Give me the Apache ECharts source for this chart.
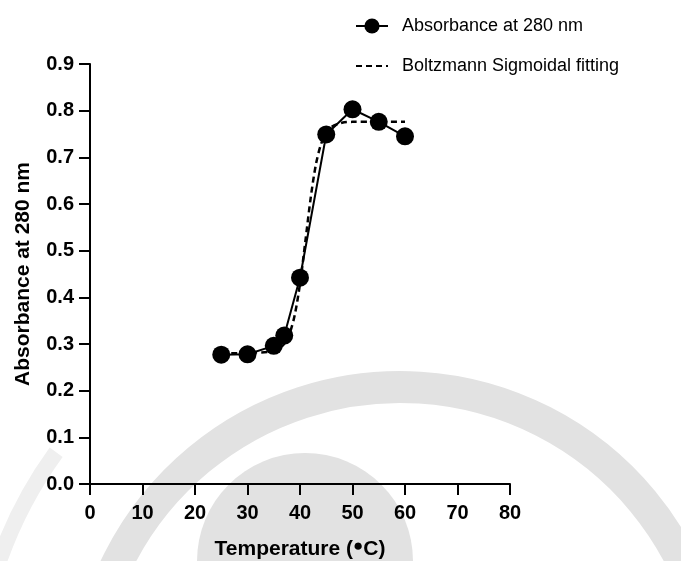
<!DOCTYPE html>
<html>
<head>
  <meta charset="utf-8">
  <title>Absorbance vs Temperature</title>
  <script src="https://cdn.jsdelivr.net/npm/echarts@6/dist/echarts.min.js"></script>
  <style>
    html, body { margin: 0; padding: 0; background: #fff; }
    #main { width: 681px; height: 561px; }
  </style>
</head>
<body>
  <div id="main"></div>
  <script type="text/javascript">
    // measured points
    var temps = [25, 30, 35, 37, 40, 45, 50, 55, 60];
    var absorbance = [0.277, 0.278, 0.296, 0.318, 0.442, 0.749, 0.803, 0.776, 0.745];

    // dashed fit curve
    var fitTemps = [25, 30, 35, 37, 38, 39, 40, 41, 42, 43, 44, 45, 46, 48, 50, 55, 60];
    var fitValues = [0.280, 0.281, 0.285, 0.300, 0.322, 0.362, 0.429, 0.518, 0.610, 0.683, 0.728, 0.752, 0.765, 0.774, 0.776, 0.776, 0.776];

    var xTicks = [0, 10, 20, 30, 40, 50, 60, 70, 80];
    var yTicks = [0, 0.1, 0.2, 0.3, 0.4, 0.5, 0.6, 0.7, 0.8, 0.9];

    function pairs(xs, ys) {
      var res = [];
      for (var i = 0; i < xs.length; i++) res.push([xs[i], ys[i]]);
      return res;
    }

    var font = "'Liberation Sans', Arial, Helvetica, sans-serif";
    var wm = '#e2e2e2';

    var myChart = echarts.init(document.getElementById('main'));
    var option = {
      backgroundColor: '#fff',
      animation: false,
      // faint logo watermark behind the plot
      graphic: [
        {
          type: 'arc', z: -10, silent: true,
          shape: { cx: 400, cy: 702, r: 315, startAngle: Math.PI * 0.9, endAngle: Math.PI * 2.1 },
          style: { stroke: wm, lineWidth: 32, fill: null }
        },
        {
          type: 'arc', z: -10, silent: true,
          shape: { cx: 400, cy: 702, r: 425, startAngle: Math.PI * 1.0, endAngle: Math.PI * 1.2 },
          style: { stroke: '#efefef', lineWidth: 16, fill: null }
        },
        {
          type: 'circle', z: -10, silent: true,
          shape: { cx: 305, cy: 561, r: 108 },
          style: { fill: wm }
        }
      ],
      legend: {
        orient: 'vertical',
        left: 350,
        top: 11,
        itemWidth: 32,
        itemHeight: 19,
        itemGap: 20,
        data: [
          { name: 'Absorbance at 280 nm' },
          { name: 'Boltzmann Sigmoidal fitting', itemStyle: { opacity: 0 } }
        ],
        textStyle: {
          fontFamily: font,
          fontSize: 18,
          color: '#000',
          lineHeight: 20,
          padding: [0, 0, 0, 9]
        }
      },
      grid: {
        left: 90,
        right: 171,
        top: 64,
        bottom: 77,
        containLabel: false,
        outerBoundsMode: 'none'
      },
      xAxis: {
        type: 'value',
        min: 0,
        max: 80,
        interval: 10,
        name: 'Temperature ({d|●}C)',
        nameLocation: 'middle',
        nameGap: 54,
        nameTextStyle: {
          fontFamily: font,
          fontSize: 21,
          fontWeight: 'bold',
          color: '#000',
          rich: {
            d: { fontFamily: font, fontSize: 17, fontWeight: 'bold', color: '#000', verticalAlign: 'top', padding: [0, 0, 5, 0] }
          }
        },
        axisLine: { lineStyle: { color: '#000', width: 2 } },
        axisTick: { inside: false, length: 11, lineStyle: { color: '#000', width: 2 } },
        axisLabel: {
          margin: 19,
          fontFamily: font,
          fontSize: 20,
          fontWeight: 'bold',
          color: '#000',
          formatter: function (v) { return xTicks.indexOf(v) >= 0 ? String(v) : ''; }
        },
        splitLine: { show: false }
      },
      yAxis: {
        type: 'value',
        min: 0,
        max: 0.9,
        interval: 0.1,
        name: 'Absorbance at 280 nm',
        nameLocation: 'middle',
        nameGap: 56,
        nameTextStyle: {
          fontFamily: font,
          fontSize: 21,
          fontWeight: 'bold',
          color: '#000'
        },
        axisLine: { show: true, lineStyle: { color: '#000', width: 2 } },
        axisTick: { show: true, inside: false, length: 11, lineStyle: { color: '#000', width: 2 } },
        axisLabel: {
          margin: 16,
          fontFamily: font,
          fontSize: 20,
          fontWeight: 'bold',
          color: '#000',
          formatter: function (v) {
            for (var i = 0; i < yTicks.length; i++) {
              if (Math.abs(yTicks[i] - v) < 1e-6) return yTicks[i].toFixed(1);
            }
            return '';
          }
        },
        splitLine: { show: false }
      },
      series: [
        {
          name: 'Absorbance at 280 nm',
          type: 'line',
          z: 3,
          data: pairs(temps, absorbance),
          symbol: 'circle',
          symbolSize: 18,
          itemStyle: { color: '#000' },
          lineStyle: { color: '#000', width: 2 }
        },
        {
          name: 'Boltzmann Sigmoidal fitting',
          type: 'line',
          z: 2,
          data: pairs(fitTemps, fitValues),
          smooth: 0.3,
          symbol: 'none',
          itemStyle: { color: '#000' },
          lineStyle: { color: '#000', width: 2.5, type: [6, 4] }
        }
      ]
    };
    myChart.setOption(option);
  </script>
</body>
</html>
